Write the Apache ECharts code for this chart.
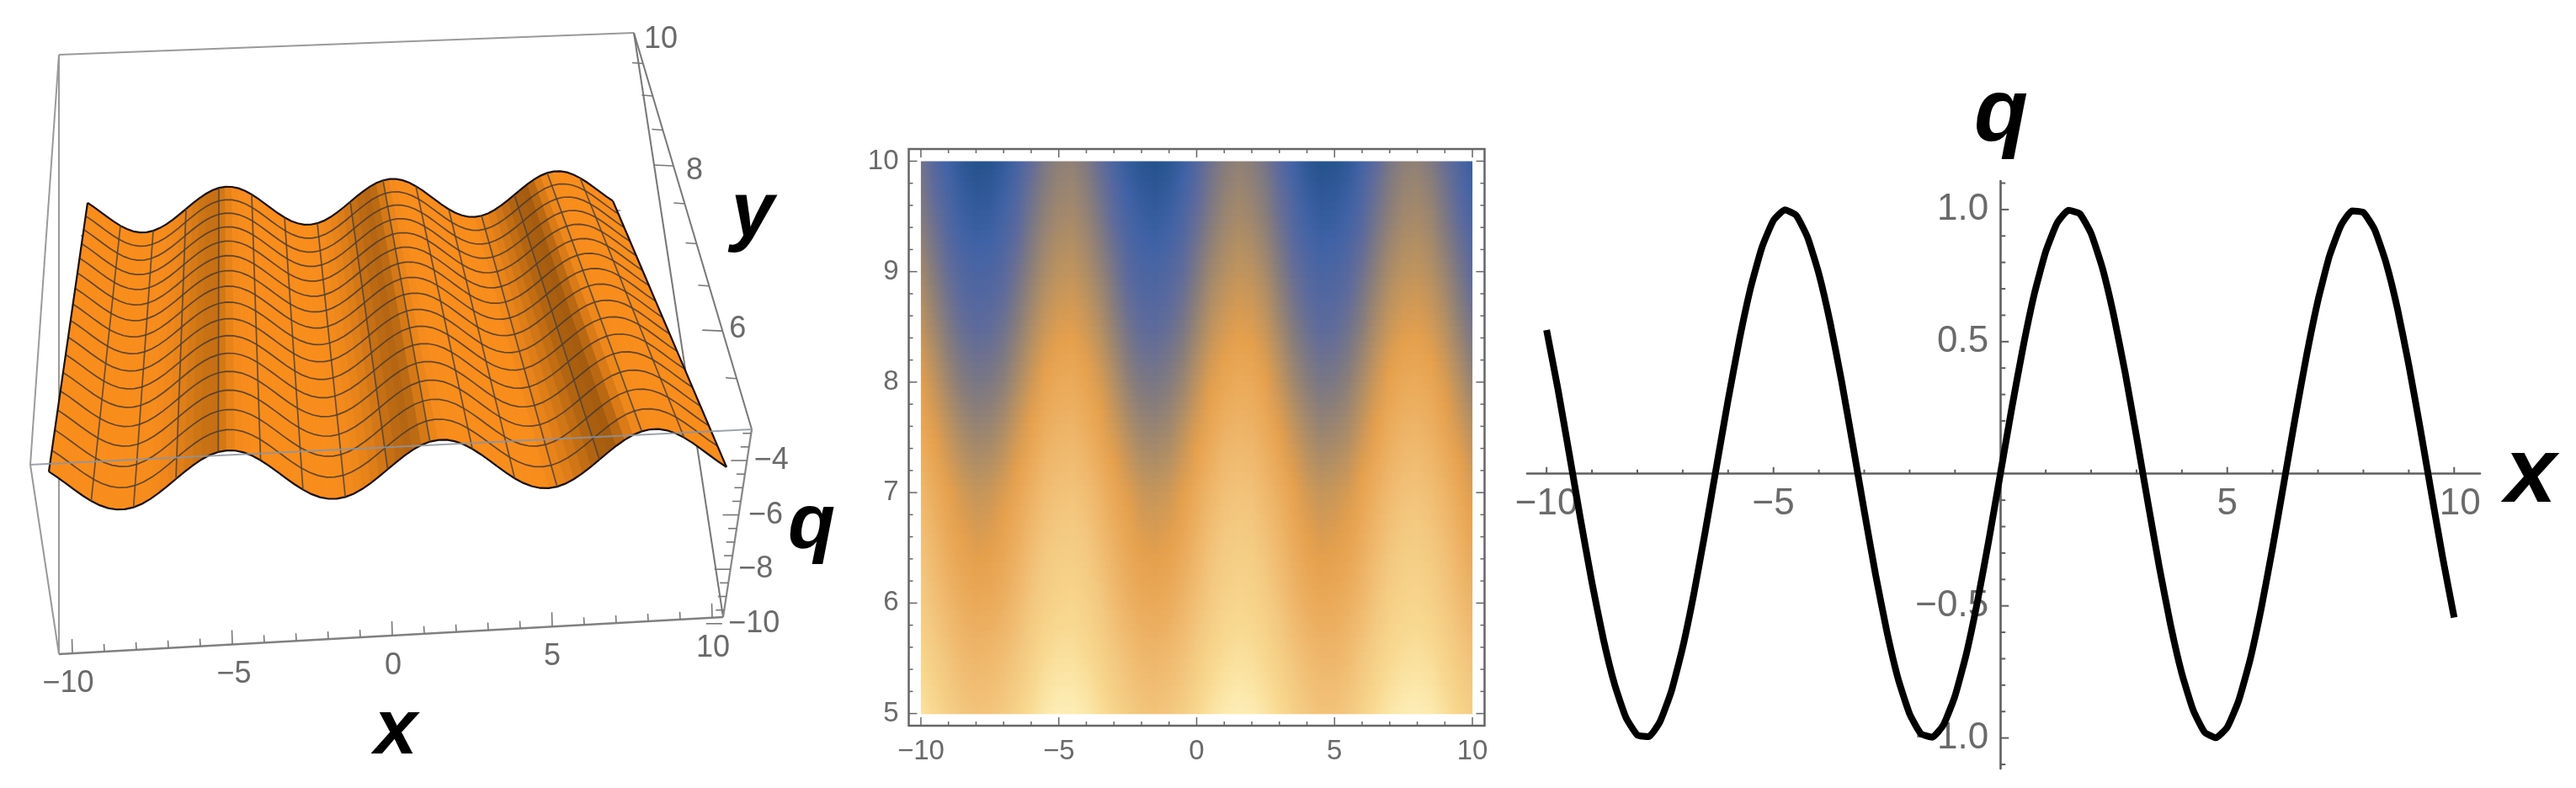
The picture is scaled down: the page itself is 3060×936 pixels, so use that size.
<!DOCTYPE html>
<html><head><meta charset="utf-8">
<style>html,body{margin:0;padding:0;background:#fff}#c{width:3060px;height:936px}</style>
<script src="https://cdn.jsdelivr.net/npm/echarts@6/dist/echarts.min.js"></script>
</head><body><div id="c"></div>
<script>
// ---------- data ----------
// q along x at step 0.25, x = -10 ... 10
const waveQ = [.544,.320,.075,-.174,-.412,-.625,-.798,-.923,-.989,-.995,-.938,-.823,-.657,-.450,-.215,.033,.279,.508,.706,.859,.959,.999,.978,.895,.757,.572,.351,.108,-.141,-.382,-.598,-.778,-.909,-.984,-.997,-.949,-.841,-.682,-.479,-.247,0,.247,.479,.682,.841,.949,.997,.984,.909,.778,.598,.382,.141,-.108,-.351,-.572,-.757,-.895,-.978,-.999,-.959,-.859,-.706,-.508,-.279,-.033,.215,.450,.657,.823,.938,.995,.989,.923,.798,.625,.412,.174,-.075,-.320,-.544];
const surfaceLevelQ = -3.7;
const meshY = [5,5.3125,5.625,5.9375,6.25,6.5625,6.875,7.1875,7.5,7.8125,8.125,8.4375,8.75,9.0625,9.375,9.6875,10];
const ticks3dX = [-10,-5,0,5,10];
const ticks3dY = [6,8,10];
const ticks3dQ = [-4,-6,-8,-10];
// density values, one list per y row, x = -10 ... 10 at step 0.5
const densY = [10,9.5,9,8.5,8,7.5,7,6.5,6,5.5,5];
const dens10 = [28,19,11,4,0,1,6,14,23,31,35,36,32,24,15,7,2,0,3,9,18,27,33,36,34,29,21,12,4,0,1,5,13,22,30,35,36,32,25,17,8];
const dens95 = [33,25,17,10,7,8,13,20,29,36,40,41,37,30,22,14,9,7,10,16,24,32,38,41,39,34,26,18,11,7,8,12,19,28,35,40,41,38,31,23,15];
const dens90 = [40,32,24,18,15,16,20,27,35,42,46,47,43,37,29,21,16,15,18,23,31,39,44,47,46,41,33,25,19,15,16,20,27,35,42,46,47,44,38,30,22];
const dens85 = [47,39,31,25,22,23,27,34,42,49,53,54,50,44,36,28,23,22,25,30,38,46,51,54,53,48,40,32,26,22,23,27,34,42,49,53,54,51,45,37,29];
const dens80 = [55,47,39,33,30,31,35,42,50,57,61,62,58,52,44,36,31,30,33,38,46,54,59,62,61,56,48,40,34,30,31,35,42,50,57,61,62,59,53,45,37];
const dens75 = [62,55,48,42,39,40,44,51,58,65,68,69,65,59,52,45,40,39,41,47,54,61,67,69,68,63,56,49,43,39,40,43,50,57,64,68,69,66,60,53,46];
const dens70 = [70,63,56,51,48,49,53,59,66,72,75,76,73,67,60,54,49,48,50,55,62,69,74,76,75,70,64,57,51,48,49,52,58,65,71,75,76,73,68,61,54];
const dens65 = [76,69,62,57,54,55,59,65,72,78,81,82,79,73,66,60,55,54,56,61,68,75,80,82,81,76,70,63,57,54,55,58,64,71,77,81,82,79,74,67,60];
const dens60 = [81,75,69,64,61,62,65,71,78,83,86,87,84,79,72,66,62,61,63,68,74,80,85,87,86,82,76,69,64,61,62,65,70,77,83,86,87,84,79,73,67];
const dens55 = [87,82,76,71,69,70,73,78,84,90,93,93,90,85,79,74,70,69,71,75,81,87,91,93,92,88,83,77,72,69,69,72,78,84,89,92,93,91,86,80,75];
const dens50 = [94,89,83,78,76,77,80,85,91,97,100,100,97,92,86,81,77,76,78,82,88,94,98,100,99,95,90,84,79,76,76,79,85,91,96,99,100,98,93,87,82];
const densRows = [dens10,dens95,dens90,dens85,dens80,dens75,dens70,dens65,dens60,dens55,dens50];
const ticks2dX = [-10,-5,0,5,10];
const ticks2dY = [5,6,7,8,9,10];
const ticksLineX = [-10,-5,5,10];
const ticksLineY = [-1,-0.5,0.5,1];

// ---------- styling / camera constants ----------
const MINUS = '\u2212';
const fmtInt = v => (v < 0 ? MINUS + (-v) : '' + v);
const fmtOne = v => (v < 0 ? MINUS + (-v).toFixed(1) : v.toFixed(1));
const labelFont = '"Liberation Sans", Arial, sans-serif';
const densColors = ['#24528c','#3f62a6','#5d6a9c','#857c7c','#b59062','#e6a04c','#edb265','#f3c67e','#f8d88f','#fdeeb6'];
const K = 0.285, KBOX = 0.32;

function project(x, y, q) {
  const v = (y - 5) / 5, w = 1 + K * v;
  const fx = 58 + (x + 10) * 40.25, fy = 577.6 - 0.05 * (fx - 58);
  const bx = 104 + (x + 10) * 31.2, by = 254.4 - 0.047 * (bx - 104);
  const px = (fx + v * (bx * (1 + K) - fx)) / w;
  const py = (fy + v * (by * (1 + K) - fy)) / w - (q - surfaceLevelQ) * 32 / w;
  return [px, py];
}
const cornerA=[70,65],cornerB=[753,39],cornerC=[36,552],cornerD=[893,510],cornerE=[70,777],cornerF=[859,733],backL=[96,280],backR=[737,250];
function onXAxis(x){const px=466+38*x;return [px, 777-0.0558*(px-70)];}
function onYAxis(y){const v=(y-5)/5,w=1+KBOX*v;return [0,1].map(i=>(cornerD[i]+v*(cornerB[i]*(1+KBOX)-cornerD[i]))/w);}
function onQAxis(q){const py=547-(q+4)*32.3;return [cornerD[0]+(py-cornerD[1])*(cornerF[0]-cornerD[0])/(cornerF[1]-cornerD[1]),py];}

const waveX = waveQ.map((_, i) => -10 + i * 0.25);

function shadeOf(x) {
  const crest = -4.71 + 2 * Math.PI * Math.round((x + 4.71) / (2 * Math.PI));
  const d = x - crest;
  const d0 = -0.5 - 0.8 * (x + 5) / 12;
  const e = d - d0;
  const sigma = e < 0 ? 0.85 : 0.4;
  const amp = Math.min(0.85, Math.max(0.4, 0.6 + 0.025 * x));
  return amp * Math.exp(-e * e / (2 * sigma * sigma));
}

// ---------- series builders ----------
const seriesList = [];
function pxSeg(api, a, b, color, width, op) {
  const p = api.coord(a), q = api.coord(b);
  return {type:'line', shape:{x1:p[0],y1:p[1],x2:q[0],y2:q[1]}, style:{stroke:color,lineWidth:width,opacity:op==null?1:op}};
}
const backEdges = [[cornerA,cornerB,'#9a9a9a',2.2],[cornerA,cornerC,'#9a9a9a',2],[cornerA,cornerE,'#9a9a9a',2],[cornerB,cornerD,'#777',2],[cornerB,cornerF,'#777',2],[cornerC,cornerE,'#999',2],[cornerD,cornerF,'#888',2.2],[cornerE,cornerF,'#808080',2.6],[backL,backR,'#9aa4b0',2.2]];
seriesList.push({type:'custom',xAxisIndex:0,yAxisIndex:0,z:2,silent:true,clip:false,
  data:backEdges.map((_,i)=>[i]),
  renderItem:(p,api)=>{const e=backEdges[p.dataIndex];return pxSeg(api,e[0],e[1],e[2],e[3]);}});
const tick3d=[];
for(let x=-10;x<=10;x++){const a=onXAxis(x),len=x%5===0?17:9;tick3d.push([a,[a[0]-0.5,a[1]-len]]);}
for(let y=5.5;y<10;y+=0.5){const a=onYAxis(y),len=(y%2===0)?24:13;tick3d.push([a,[a[0]-len,a[1]-1]]);}
for(let q=-10;q<=-3;q+=0.5){const a=onQAxis(q),len=(q%2===0)?19:10;tick3d.push([a,[a[0]-len,a[1]]]);}
seriesList.push({type:'custom',xAxisIndex:0,yAxisIndex:0,z:2,silent:true,clip:false,
  data:tick3d.map((_,i)=>[i]),
  renderItem:(p,api)=>{const e=tick3d[p.dataIndex];return pxSeg(api,e[0],e[1],'#777',1.6);}});
const quads=[];
for(let j=meshY.length-2;j>=0;j--)for(let i=0;i<waveX.length-1;i++)quads.push([i,j]);
seriesList.push({type:'custom',xAxisIndex:0,yAxisIndex:0,z:3,silent:true,clip:false,
  data:quads.map((_,i)=>[i]),
  renderItem:(p,api)=>{
    const [i,j]=quads[p.dataIndex];
    const corners=[[i,j],[i+1,j],[i+1,j+1],[i,j+1]].map(c=>api.coord(project(waveX[c[0]],meshY[c[1]],waveQ[c[0]]+surfaceLevelQ)));
    const col=echarts.color.lerp(shadeOf(waveX[i]+0.125),['#f88d1c','#8c4d0b']);
    return {type:'polygon',shape:{points:corners},style:{fill:col,stroke:col,lineWidth:0.8}};
  }});
seriesList.push({type:'custom',xAxisIndex:0,yAxisIndex:0,z:4,silent:true,clip:false,
  data:meshY.map((_,i)=>[i]),
  renderItem:(p,api)=>{
    const yy=meshY[p.dataIndex],edge=p.dataIndex===0||p.dataIndex===meshY.length-1;
    const pts=waveX.map((x,i)=>api.coord(project(x,yy,waveQ[i]+surfaceLevelQ)));
    return {type:'polyline',shape:{points:pts},style:{stroke:edge?'#1a1008':'#4a3a2c',lineWidth:edge?2.2:1.7,fill:'none',opacity:edge?1:.85}};
  }});
const meshCols=[];for(let i=0;i<waveX.length;i+=5)meshCols.push(i);
seriesList.push({type:'custom',xAxisIndex:0,yAxisIndex:0,z:4,silent:true,clip:false,
  data:meshCols.map((_,i)=>[i]),
  renderItem:(p,api)=>{
    const i=meshCols[p.dataIndex],edge=i===0||i===waveX.length-1;
    const pts=meshY.map(y=>api.coord(project(waveX[i],y,waveQ[i]+surfaceLevelQ)));
    return {type:'polyline',shape:{points:pts},style:{stroke:edge?'#1a1008':'#4f4338',lineWidth:edge?2.2:1.7,fill:'none',opacity:edge?1:.85}};
  }});
seriesList.push({type:'custom',xAxisIndex:0,yAxisIndex:0,z:5,silent:true,clip:false,
  data:[[0]],
  renderItem:(p,api)=>pxSeg(api,cornerC,cornerD,'#8c94a0',2.2,.85)});
const yLabelOffset={10:[32,8],8:[25,6],6:[18,-2]};
const qLabelOffset={'-4':29,'-6':32,'-8':30,'-10':38};
const xLabelOffset={'-10':-5,'-5':2,0:1,5:0,10:1};
const labels3d=[
  ...ticks3dX.map(v=>{const a=onXAxis(v);return {p:[a[0]+xLabelOffset[v],a[1]+36],t:fmtInt(v)};}),
  ...ticks3dY.map(v=>{const a=onYAxis(v);return {p:[a[0]+yLabelOffset[v][0],a[1]+yLabelOffset[v][1]],t:fmtInt(v)};}),
  ...ticks3dQ.map(v=>{const a=onQAxis(v);return {p:[a[0]+qLabelOffset[v],a[1]],t:fmtInt(v)};})
];
seriesList.push({type:'custom',xAxisIndex:0,yAxisIndex:0,z:6,silent:true,clip:false,
  data:labels3d.map((_,i)=>[i]),
  renderItem:(p,api)=>{const l=labels3d[p.dataIndex],c=api.coord(l.p);
    return {type:'text',x:c[0],y:c[1],style:{text:l.t,fill:'#6a6a6a',font:'36px '+labelFont,align:'center',verticalAlign:'middle'}};}});

// ---------- density plot ----------
const densBands=[];
const SUB=8;
for(let j=0;j<densY.length-1;j++)for(let s=0;s<SUB;s++)densBands.push([j,s]);
seriesList.push({type:'custom',xAxisIndex:1,yAxisIndex:1,z:2,silent:true,clip:true,
  data:densBands.map((_,i)=>[i]),
  renderItem:(p,api)=>{
    const [j,s]=densBands[p.dataIndex];
    const dy=densY[j+1]-densY[j];
    const y0=densY[j]+dy*s/SUB,y1=densY[j]+dy*(s+1)/SUB;
    const a=api.coord([-10,y0]),b=api.coord([10,y1]);
    const f=(s+0.5)/SUB,rowA=densRows[j],rowB=densRows[j+1],n=rowA.length;
    const stops=rowA.map((v,i)=>({offset:i/(n-1),color:echarts.color.lerp((v*(1-f)+rowB[i]*f)/100,densColors)}));
    return {type:'rect',shape:{x:a[0],y:a[1],width:b[0]-a[0],height:b[1]-a[1]+0.8},style:{fill:new echarts.graphic.LinearGradient(0,0,1,0,stops)}};
  }});
const frameTicks=[];
for(let x=-10;x<=10;x++){const len=x%5===0?10:5;frameTicks.push({v:[x,4.89],d:[0,-len]});frameTicks.push({v:[x,10.11],d:[0,len]});}
for(let k=0;k<=25;k++){const y=5+k*0.2,len=k%5===0?10:5;frameTicks.push({v:[-10.44,y],d:[len,0]});frameTicks.push({v:[10.44,y],d:[-len,0]});}
seriesList.push({type:'custom',xAxisIndex:1,yAxisIndex:1,z:3,silent:true,clip:false,
  data:frameTicks.map((_,i)=>[i]),
  renderItem:(p,api)=>{const t=frameTicks[p.dataIndex],c=api.coord(t.v);
    return {type:'line',shape:{x1:c[0],y1:c[1],x2:c[0]+t.d[0],y2:c[1]+t.d[1]},style:{stroke:'#666',lineWidth:1.5}};}});

// ---------- line plot ----------
const lineTicks=[];
for(let x=-10;x<=10;x++){if(x===0)continue;lineTicks.push({v:[x,0],d:[0,x%5===0?-8:-5]});}
for(let k=-11;k<=11;k++){if(k===0)continue;lineTicks.push({v:[0,k/10],d:[k%5===0?10:6,0]});}
seriesList.push({type:'custom',xAxisIndex:2,yAxisIndex:2,z:2,silent:true,clip:false,
  data:lineTicks.map((_,i)=>[i]),
  renderItem:(p,api)=>{const t=lineTicks[p.dataIndex],c=api.coord(t.v);
    return {type:'line',shape:{x1:c[0],y1:c[1],x2:c[0]+t.d[0],y2:c[1]+t.d[1]},style:{stroke:'#5f5f5f',lineWidth:2}};}});
const lineLabels=[
  ...ticksLineX.map(v=>({v:[v,0],t:fmtInt(v),dx:v===10?7:0,dy:36,align:'center'})),
  ...ticksLineY.map(v=>({v:[0,v],t:fmtOne(v),dx:-14,dy:0,align:'right'}))
];
seriesList.push({type:'custom',xAxisIndex:2,yAxisIndex:2,z:3,silent:true,clip:false,
  data:lineLabels.map((_,i)=>[i]),
  renderItem:(p,api)=>{const l=lineLabels[p.dataIndex],c=api.coord(l.v);
    return {type:'text',x:c[0]+l.dx,y:c[1]+l.dy,style:{text:l.t,fill:'#6a6a6a',font:'44px '+labelFont,align:l.align,verticalAlign:'middle'}};}});
seriesList.push({type:'line',xAxisIndex:2,yAxisIndex:2,z:5,silent:true,showSymbol:false,smooth:0.15,sampling:'none',
  data:waveX.map((x,i)=>[x,waveQ[i]]),lineStyle:{color:'#000',width:8,join:'round'}});

const hiddenAxis=(o)=>Object.assign({type:'value',show:false},o);
const tickLabel=(vals,fmt,extra)=>Object.assign({customValues:vals,formatter:fmt,color:'#6a6a6a',fontSize:33,fontFamily:labelFont},extra);
const axisTitle=(t,x,y,size)=>({type:'text',x,y,style:{text:t,fill:'#000',font:'italic bold '+size+'px '+labelFont,align:'center',verticalAlign:'middle'},z:20});

const chart=echarts.init(document.getElementById('c'),null,{renderer:'canvas'});
chart.setOption({
  animation:false,backgroundColor:'#fff',
  grid:[
    {left:0,top:0,width:1020,height:936,outerBoundsMode:'none'},
    {left:1079.5,top:177,width:684,height:685,show:true,borderColor:'#666',borderWidth:2.5,backgroundColor:'#fff',outerBoundsMode:'none'},
    {left:1814,top:215,width:1132,height:698,outerBoundsMode:'none'}
  ],
  xAxis:[
    hiddenAxis({gridIndex:0,min:0,max:1020}),
    {type:'value',gridIndex:1,min:-10.44,max:10.44,position:'bottom',axisLine:{show:false},axisTick:{show:false},splitLine:{show:false},
     axisLabel:tickLabel(ticks2dX,fmtInt,{margin:14})},
    {type:'value',gridIndex:2,min:-10.43,max:10.57,axisLine:{onZero:true,lineStyle:{color:'#5f5f5f',width:2.6}},axisTick:{show:false},splitLine:{show:false},
     axisLabel:{show:false}}
  ],
  yAxis:[
    hiddenAxis({gridIndex:0,min:0,max:936,inverse:true}),
    {type:'value',gridIndex:1,min:4.89,max:10.11,axisLine:{show:false},axisTick:{show:false},splitLine:{show:false},
     axisLabel:tickLabel(ticks2dY,fmtInt,{margin:12})},
    {type:'value',gridIndex:2,min:-1.116,max:1.108,axisLine:{onZero:true,lineStyle:{color:'#5f5f5f',width:2.6}},axisTick:{show:false},splitLine:{show:false},
     axisLabel:{show:false}}
  ],
  series:seriesList,
  graphic:[
    axisTitle('x',470,870,92),
    axisTitle('y',894,256,92),
    axisTitle('q',964,626,92),
    axisTitle('q',2377,138,105),
    axisTitle('x',3006,566,110)
  ]
});
</script></body></html>
